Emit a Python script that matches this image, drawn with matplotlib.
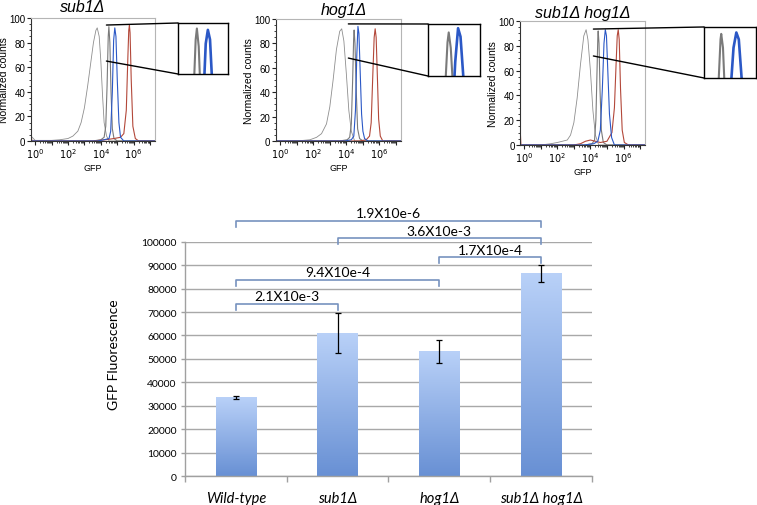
import numpy as np
import matplotlib
matplotlib.use("Agg")
import matplotlib.pyplot as plt
from matplotlib.colors import LinearSegmentedColormap
from matplotlib.patches import ConnectionPatch
from matplotlib.ticker import FixedLocator, NullFormatter

# ---- flow histograms (x = log10 GFP, y = normalized counts) ----
panel_titles = ["sub1\u0394", "hog1\u0394", "sub1\u0394 hog1\u0394"]

# sub1
sub1_wide_x = [-0.25, 0.0, 1.0, 1.5, 2.0, 2.3, 2.6, 2.8, 3.0, 3.2, 3.4, 3.55, 3.7, 3.78, 3.9, 4.0, 4.1, 4.2, 4.35, 4.5, 7.3]
sub1_wide_y = [4, 0.5, 0.5, 1, 2, 4, 8, 15, 27, 45, 65, 80, 90, 92, 85, 65, 38, 15, 4, 0, 0]
sub1_narrow_x = [-0.25, 3.5, 4.0, 4.2, 4.3, 4.38, 4.45, 4.49, 4.55, 4.62, 4.7, 4.8, 5.0, 7.3]
sub1_narrow_y = [0, 0, 1, 3, 12, 45, 85, 93, 80, 40, 10, 2, 0, 0]
sub1_blue_x = [-0.25, 3.8, 4.2, 4.5, 4.6, 4.7, 4.78, 4.85, 4.92, 5.0, 5.1, 5.2, 5.4, 7.3]
sub1_blue_y = [0, 0, 1, 2, 8, 40, 82, 92, 85, 50, 15, 3, 0, 0]
sub1_red_x = [-0.25, -0.2, 0.0, 3.5, 4.3, 4.8, 5.2, 5.4, 5.55, 5.65, 5.7, 5.74, 5.78, 5.85, 5.95, 6.1, 6.3, 7.3]
sub1_red_y = [5, 0, 0, 0, 1, 2, 3, 6, 25, 70, 90, 94, 88, 50, 12, 2, 0, 0]

# hog1
hog1_wide_x = [-0.25, 1.0, 1.8, 2.2, 2.5, 2.8, 3.0, 3.2, 3.4, 3.6, 3.72, 3.85, 4.0, 4.15, 4.3, 4.5, 7.3]
hog1_wide_y = [0, 0, 1, 3, 6, 14, 28, 50, 75, 90, 92, 82, 55, 25, 8, 0, 0]
hog1_narrow_x = [-0.25, 3.6, 4.05, 4.2, 4.3, 4.38, 4.44, 4.47, 4.52, 4.6, 4.68, 4.8, 5.0, 7.3]
hog1_narrow_y = [0, 0, 1, 3, 14, 50, 84, 91, 80, 40, 10, 2, 0, 0]
hog1_blue_x = [-0.25, 3.9, 4.3, 4.45, 4.55, 4.63, 4.7, 4.76, 4.84, 4.92, 5.0, 5.1, 5.3, 7.3]
hog1_blue_y = [0, 0, 1, 4, 25, 70, 94, 88, 55, 22, 8, 2, 0, 0]
hog1_red_x = [-0.25, 4.8, 5.2, 5.4, 5.5, 5.6, 5.68, 5.74, 5.8, 5.88, 5.95, 6.05, 6.2, 7.3]
hog1_red_y = [0, 0, 1, 4, 15, 55, 85, 92, 85, 50, 18, 4, 0, 0]

# sub1 hog1
dbl_wide_x = [-0.25, 1.0, 1.6, 2.0, 2.3, 2.6, 2.8, 3.0, 3.2, 3.4, 3.6, 3.74, 3.85, 4.0, 4.15, 4.3, 4.5, 7.3]
dbl_wide_y = [0, 0, 1, 2, 3, 4, 8, 18, 38, 65, 88, 93, 85, 60, 28, 8, 0, 0]
dbl_narrow_x = [-0.25, 3.7, 4.1, 4.25, 4.33, 4.4, 4.45, 4.47, 4.52, 4.58, 4.66, 4.78, 5.0, 7.3]
dbl_narrow_y = [0, 0, 1, 4, 20, 60, 88, 92, 82, 45, 12, 2, 0, 0]
dbl_blue_x = [-0.25, 3.6, 4.2, 4.45, 4.6, 4.72, 4.82, 4.9, 4.97, 5.05, 5.15, 5.28, 5.45, 7.3]
dbl_blue_y = [0, 0, 1, 3, 12, 45, 82, 93, 88, 60, 25, 6, 0, 0]
dbl_red_x = [-0.25, -0.2, 0.0, 3.0, 3.4, 3.7, 4.0, 4.3, 4.6, 5.0, 5.3, 5.45, 5.55, 5.62, 5.68, 5.74, 5.82, 5.92, 6.05, 6.3, 7.3]
dbl_red_y = [15, 0, 0, 0, 1, 3, 4, 3, 2, 3, 10, 30, 65, 88, 93, 85, 45, 12, 2, 0, 0]

# ---- bar chart ----
strains = ["Wild-type", "sub1\u0394", "hog1\u0394", "sub1\u0394 hog1\u0394"]
gfp_mean = [33600, 61000, 53200, 86500]
gfp_err = [750, 8700, 4900, 3700]

bracket_pairs = [(0, 1), (0, 2), (2, 3), (1, 3), (0, 3)]
bracket_levels = [73400, 83600, 93300, 101400, 109000]
bracket_labels = ["2.1X10e-3", "9.4X10e-4", "1.7X10e-4", "3.6X10e-3", "1.9X10e-6"]

fig = plt.figure(figsize=(7.57, 5.06), dpi=100)

# layout of the three top panels (figure fractions)
main_rects = [[0.041, 0.7194, 0.1638, 0.243],
              [0.3646, 0.7194, 0.1651, 0.241],
              [0.687, 0.7115, 0.1651, 0.245]]
inset_rects = [[0.2351, 0.8518, 0.0661, 0.1008],
               [0.5654, 0.8478, 0.0687, 0.1028],
               [0.9300, 0.8439, 0.0687, 0.1008]]
inset_xlims = [(3.87, 5.51), (3.96, 5.24), (3.98, 5.46)]
zoom_from = [(4.34, 94.3, 65.0), (4.12, 96.0, 68.0), (4.18, 93.5, 71.8)]
title_pos = [(0.42, 1.09), (0.54, 1.08), (0.50, 1.065)]

curves = [
    (sub1_wide_x, sub1_wide_y, sub1_narrow_x, sub1_narrow_y, sub1_blue_x, sub1_blue_y, sub1_red_x, sub1_red_y),
    (hog1_wide_x, hog1_wide_y, hog1_narrow_x, hog1_narrow_y, hog1_blue_x, hog1_blue_y, hog1_red_x, hog1_red_y),
    (dbl_wide_x, dbl_wide_y, dbl_narrow_x, dbl_narrow_y, dbl_blue_x, dbl_blue_y, dbl_red_x, dbl_red_y),
]

GRAY1 = "#8e8e8e"
GRAY2 = "#7a7a7a"
BLUE = "#2b58c6"
RED = "#b3483a"
TOPFONT = ["Liberation Sans", "DejaVu Sans"]
BOTFONT = ["Lato", "DejaVu Sans"]

for k in range(3):
    wx, wy, nx, ny, bx, by, rx, ry = curves[k]
    ax = fig.add_axes(main_rects[k])
    ax.plot(10 ** np.array(wx), wy, color=GRAY1, lw=0.6)
    ax.plot(10 ** np.array(nx), ny, color=GRAY2, lw=0.8)
    ax.plot(10 ** np.array(rx), ry, color=RED, lw=0.8)
    ax.plot(10 ** np.array(bx), by, color=BLUE, lw=0.8)
    ax.set_xscale("log")
    ax.set_xlim(10 ** -0.25, 10 ** 7.3)
    ax.set_ylim(0, 100)
    ax.set_xticks([10.0 ** p for p in range(0, 8)])
    ax.set_xticklabels(["$10^{%d}$" % p if p % 2 == 0 else "" for p in range(0, 8)])
    ax.xaxis.set_minor_locator(FixedLocator([m * 10.0 ** p for p in range(0, 7) for m in range(2, 10)]))
    ax.xaxis.set_minor_formatter(NullFormatter())
    ax.set_yticks([0, 20, 40, 60, 80, 100])
    ax.set_yticks(range(0, 101, 5), minor=True)
    ax.tick_params(axis="both", which="major", length=3, width=0.8, labelsize=7, pad=1, color="#222222")
    ax.tick_params(axis="both", which="minor", length=1.5, width=0.6, color="#222222")
    for lab in ax.get_xticklabels() + ax.get_yticklabels():
        lab.set_family(TOPFONT)
    for s in ["top", "right"]:
        ax.spines[s].set_color("#b5b5b5")
        ax.spines[s].set_linewidth(0.8)
    for s in ["left", "bottom"]:
        ax.spines[s].set_color("#333333")
        ax.spines[s].set_linewidth(0.8)
    ax.set_xlabel("GFP", fontsize=6.5, family=TOPFONT, labelpad=2)
    ax.set_ylabel("Normalized counts", fontsize=7.5, family=TOPFONT)
    ax.yaxis.set_label_coords(-0.175, 0.5)
    tx, ty = title_pos[k]
    ax.text(tx, ty, panel_titles[k], transform=ax.transAxes, ha="center", va="center",
            fontsize=11.5, style="italic", family=TOPFONT)

    ins = fig.add_axes(inset_rects[k])
    ins.plot(10 ** np.array(nx), ny, color=GRAY2, lw=1.5)
    ins.plot(10 ** np.array(bx), by, color=BLUE, lw=1.9)
    ins.set_xscale("log")
    ins.set_xlim(10 ** inset_xlims[k][0], 10 ** inset_xlims[k][1])
    ins.set_ylim(60, 97)
    ins.set_xticks([])
    ins.set_yticks([])
    ins.minorticks_off()
    for s in ins.spines.values():
        s.set_color("black")
        s.set_linewidth(1.0)

    zx, zy_top, zy_bot = zoom_from[k]
    for zy, corner in [(zy_top, (0, 1)), (zy_bot, (0, 0))]:
        con = ConnectionPatch(xyA=(10 ** zx, zy), coordsA=ax.transData,
                              xyB=corner, coordsB=ins.transAxes,
                              color="black", lw=1.0)
        fig.add_artist(con)

# ---- bar chart ----
bx_ax = fig.add_axes([0.2444, 0.0573, 0.5376, 0.463])
xpos = np.arange(len(strains))
width = 0.4
cmap = LinearSegmentedColormap.from_list("barfill", ["#6890d4", "#b9d1f8"])
grad = np.linspace(0, 1, 256).reshape(-1, 1)
for xi, h in zip(xpos, gfp_mean):
    bx_ax.imshow(grad, extent=[xi - width / 2, xi + width / 2, 0, h], origin="lower",
                 cmap=cmap, aspect="auto", zorder=2)
bx_ax.errorbar(xpos, gfp_mean, yerr=gfp_err, fmt="none", ecolor="black",
               elinewidth=0.9, capsize=2.5, capthick=0.9, zorder=3)
bx_ax.set_xlim(-0.5, len(strains) - 0.5)
bx_ax.set_ylim(0, 100000)
bx_ax.set_yticks(range(0, 100001, 10000))
bx_ax.yaxis.grid(True, color="#a8a8a8", lw=1.0, zorder=0)
bx_ax.set_axisbelow(True)
bx_ax.set_xticks(xpos)
bx_ax.set_xticklabels(strains, style="italic", fontsize=10.5, family=BOTFONT)
bx_ax.set_xticks(np.arange(-0.5, len(strains)), minor=True)
bx_ax.tick_params(axis="x", which="major", length=0, pad=11)
bx_ax.tick_params(axis="x", which="minor", length=4, color="#a0a0a0", width=1.0)
bx_ax.tick_params(axis="y", length=3, color="#a0a0a0", width=1.0, labelsize=7.5, pad=3)
for lab in bx_ax.get_yticklabels():
    lab.set_family(BOTFONT)
for s in ["top", "right"]:
    bx_ax.spines[s].set_visible(False)
for s in ["left", "bottom"]:
    bx_ax.spines[s].set_color("#a0a0a0")
    bx_ax.spines[s].set_linewidth(1.0)
bx_ax.set_ylabel("GFP Fluorescence", fontsize=10, family=BOTFONT)
bx_ax.yaxis.set_label_coords(-0.16, 0.52)

drop = 2500
for (i, j), lvl, lab in zip(bracket_pairs, bracket_levels, bracket_labels):
    bx_ax.plot([xpos[i], xpos[i], xpos[j], xpos[j]], [lvl - drop, lvl, lvl, lvl - drop],
               color="#7792bf", lw=1.2, clip_on=False, zorder=4)
    bx_ax.text((xpos[i] + xpos[j]) / 2, lvl + 3300, lab, ha="center", va="center",
               fontsize=10, family=BOTFONT, clip_on=False)

fig.savefig("out.png", dpi=100)
